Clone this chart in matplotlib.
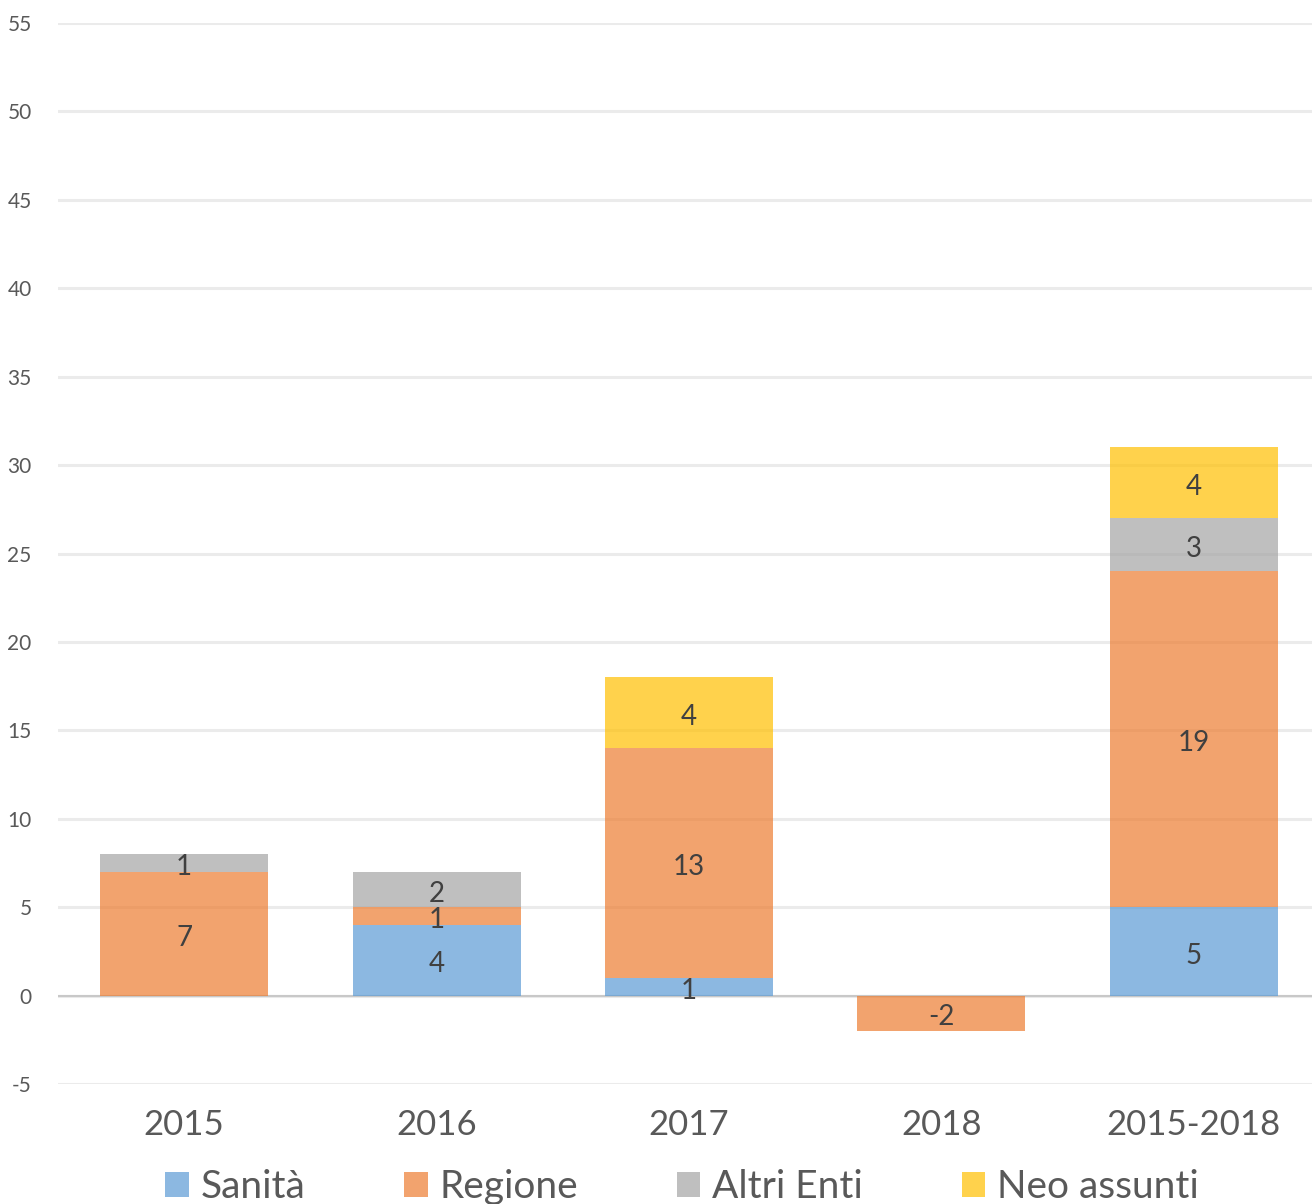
import matplotlib.pyplot as plt
import numpy as np

plt.rcParams['font.family'] = ['Lato', 'DejaVu Sans']

# data
categories = ['2015', '2016', '2017', '2018', '2015-2018']
series_names = ['Sanità', 'Regione', 'Altri Enti', 'Neo assunti']
sanita = [0, 4, 1, 0, 5]
regione = [7, 1, 13, -2, 19]
altri_enti = [1, 2, 0, 0, 3]
neo_assunti = [0, 0, 4, 0, 4]
y_ticks = list(range(-5, 60, 5))

colors = ['#5B9BD5', '#ED7D31', '#A5A5A5', '#FFC000']

fig = plt.figure(figsize=(13.12, 12.04), dpi=100)
ax = fig.add_axes([58 / 1312, 120 / 1204, 1262 / 1312, 1061 / 1204])

x = np.arange(len(categories))
pos_bottom = np.zeros(len(categories))
neg_bottom = np.zeros(len(categories))
handles = []
for name, vals, col in zip(series_names, [sanita, regione, altri_enti, neo_assunti], colors):
    vals = np.array(vals, dtype=float)
    bottom = np.where(vals >= 0, pos_bottom, neg_bottom)
    bars = ax.bar(x, vals, width=0.665, bottom=bottom, color=col, alpha=0.7,
                  linewidth=0, zorder=2, label=name)
    handles.append(bars)
    for xi, v, b in zip(x, vals, bottom):
        if v != 0:
            ax.annotate('%d' % v, (xi, b + v / 2), xytext=(0, -3),
                        textcoords='offset points', ha='center', va='center',
                        fontsize=20, color='#404040', zorder=3)
    pos_bottom = pos_bottom + np.where(vals > 0, vals, 0)
    neg_bottom = neg_bottom + np.where(vals < 0, vals, 0)

ax.set_xlim(-0.5, len(categories) - 0.5)
ax.set_ylim(-5, 55)
ax.set_yticks(y_ticks)
ax.set_yticklabels([str(t) for t in y_ticks], fontsize=15, color='#595959')
ax.set_xticks(x)
ax.set_xticklabels(categories, fontsize=25, color='#595959')
ax.tick_params(axis='both', length=0)
ax.tick_params(axis='y', pad=19)
ax.tick_params(axis='x', pad=18)
ax.yaxis.grid(True, color='#EBEBEB', linewidth=2.2, zorder=0)
ax.axhline(0, color='#C8C8C8', linewidth=1.5, zorder=1)
ax.set_axisbelow(True)
for s in ax.spines.values():
    s.set_visible(False)

leg = fig.legend(handles=handles, labels=series_names, loc='center',
                 bbox_to_anchor=(682 / 1312, 1 - 1187 / 1204), ncol=4,
                 frameon=False, fontsize=28, handlelength=0.6, handleheight=0.6,
                 handletextpad=0.3, columnspacing=2.55, labelcolor='#595959')

fig.savefig('out.png', dpi=100)
